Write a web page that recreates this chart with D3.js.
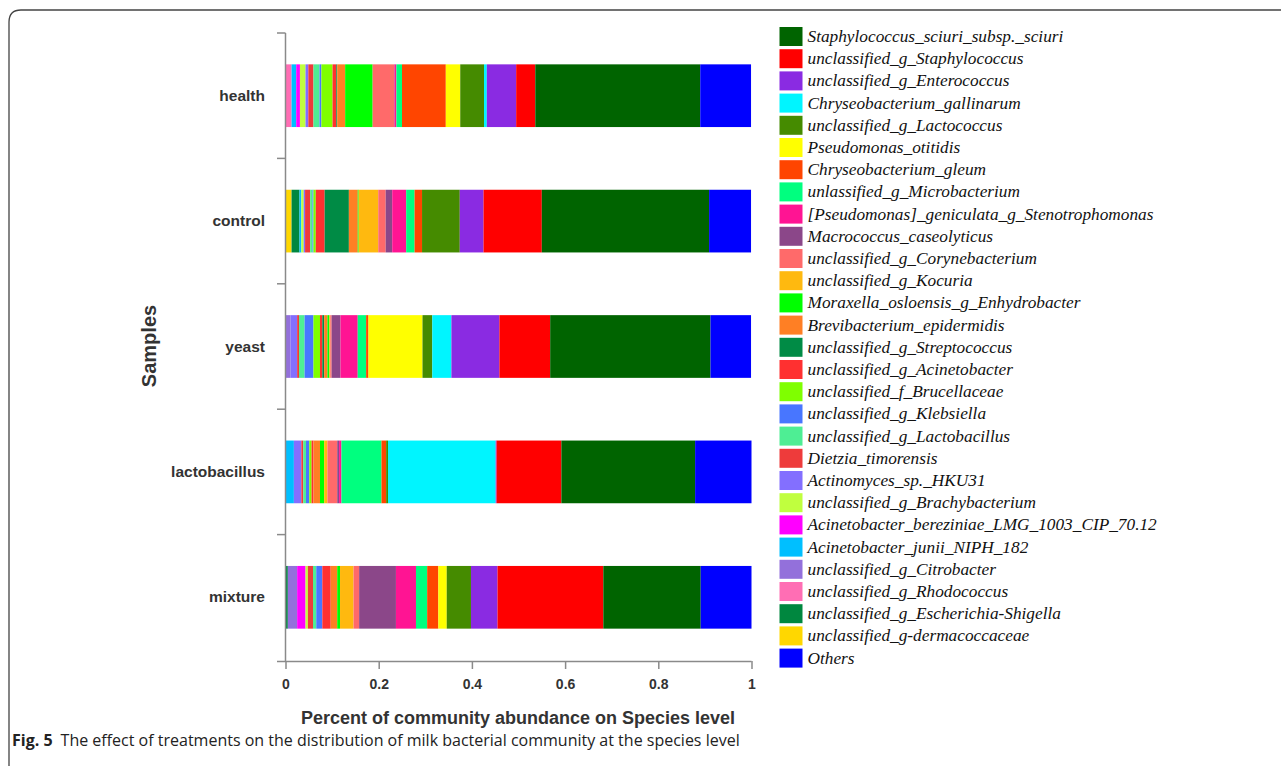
<!DOCTYPE html>
<html><head><meta charset="utf-8">
<script src="https://cdn.jsdelivr.net/npm/d3@7"></script>
<style>body{margin:0;background:#fff}svg{display:block}</style>
</head><body>
<svg id="chart" width="1281" height="766"></svg>
<script>
const samples = ["health","control","yeast","lactobacillus","mixture"];
const species = [
 "Staphylococcus_sciuri_subsp._sciuri","unclassified_g_Staphylococcus","unclassified_g_Enterococcus",
 "Chryseobacterium_gallinarum","unclassified_g_Lactococcus","Pseudomonas_otitidis","Chryseobacterium_gleum",
 "unlassified_g_Microbacterium","[Pseudomonas]_geniculata_g_Stenotrophomonas","Macrococcus_caseolyticus",
 "unclassified_g_Corynebacterium","unclassified_g_Kocuria","Moraxella_osloensis_g_Enhydrobacter",
 "Brevibacterium_epidermidis","unclassified_g_Streptococcus","unclassified_g_Acinetobacter",
 "unclassified_f_Brucellaceae","unclassified_g_Klebsiella","unclassified_g_Lactobacillus","Dietzia_timorensis",
 "Actinomyces_sp._HKU31","unclassified_g_Brachybacterium","Acinetobacter_bereziniae_LMG_1003_CIP_70.12",
 "Acinetobacter_junii_NIPH_182","unclassified_g_Citrobacter","unclassified_g_Rhodococcus",
 "unclassified_g_Escherichia-Shigella","unclassified_g-dermacoccaceae","Others"];
const colors = ["#006400","#FF0000","#8A2BE2","#00F5FF","#458B00","#FFFF00","#FF4500","#00FF7F","#FF1493",
 "#8B4789","#FF6A6A","#FFB90F","#00FF00","#FF7F24","#008B45","#FF3030","#7FFF00","#4876FF","#4EEE94",
 "#EE3B3B","#836FFF","#C0FF3E","#FF00FF","#00BFFF","#9370DB","#FF6EB4","#00873F","#FFD700","#0000FF"];
const xTicks = [0,0.2,0.4,0.6,0.8,1];
// values in legend order
const health        = [0.354,0.041,0.063,0.006,0.051,0.031,0.094,0.012,0.004,0.001,0.046,0,0.059,0.017,0.002,0.008,0.024,0.004,0.013,0.011,0.006,0.012,0.008,0.010,0,0.013,0,0,0.109];
const control       = [0.359,0.125,0.051,0,0.081,0,0.016,0.018,0.030,0.014,0.016,0.042,0.002,0.019,0.052,0.019,0.005,0.002,0.005,0.011,0.003,0.005,0,0.004,0,0,0.017,0.013,0.090];
const yeast         = [0.344,0.109,0.103,0.041,0.021,0.116,0.005,0.018,0.037,0.019,0.003,0.002,0.004,0.007,0.004,0.005,0.014,0.019,0.012,0.004,0.014,0,0,0,0.011,0,0,0,0.087];
const lactobacillus = [0.287,0.139,0.002,0.231,0.004,0,0.010,0.086,0.005,0.004,0.021,0.007,0.009,0.014,0,0.004,0.005,0.007,0.006,0.004,0.016,0,0,0.018,0,0,0,0,0.121];
const mixture       = [0.209,0.227,0.057,0,0.052,0.018,0.024,0.024,0.043,0.079,0.012,0.029,0.006,0.014,0,0.018,0,0.013,0.007,0.011,0,0.005,0.018,0,0.020,0,0.005,0,0.109];

const valuesBySample = {health, control, yeast, lactobacillus, mixture};
const rows = samples.map(s => {
  const o = {sample: s};
  species.forEach((sp, i) => o[sp] = valuesBySample[s][i]);
  return o;
});
// stacking: least abundant legend entries first (left), Others at right end
const keys = species.slice(0, 28).reverse().concat(["Others"]);
const stacked = d3.stack().keys(keys)(rows);
const color = d3.scaleOrdinal().domain(species).range(colors);

const svg = d3.select("#chart");
// figure frame
svg.append("path").attr("d","M9,800 V22 Q9,10 21,10 H1300")
  .attr("fill","none").attr("stroke","#444").attr("stroke-width",1.3);

const x = d3.scaleLinear().domain([0,1]).range([285.5,751.5]);
const y = d3.scaleBand().domain(samples).range([33,660]).paddingInner(0.5).paddingOuter(0.25);

const g = svg.append("g");
g.selectAll("g.layer").data(stacked).join("g").attr("class","layer")
  .attr("fill", d => color(d.key))
  .selectAll("rect").data(d => d).join("rect")
  .attr("x", d => x(d[0])).attr("width", d => Math.max(0, x(d[1]) - x(d[0])))
  .attr("y", d => y(d.data.sample)).attr("height", y.bandwidth());

// axes
const axisColor = "#8a8a8a";
const step = y.step();
const yBounds = samples.map(s => y(s) - step*0.25).concat([y(samples[4]) + y.bandwidth() + step*0.25]);
svg.append("line").attr("x1",285.5).attr("x2",285.5).attr("y1",yBounds[0]).attr("y2",661)
  .attr("stroke",axisColor).attr("stroke-width",1.5);
svg.selectAll("line.ytick").data(yBounds.slice(0,5)).join("line").attr("class","ytick")
  .attr("x1",277).attr("x2",285.5).attr("y1",d=>d).attr("y2",d=>d)
  .attr("stroke",axisColor).attr("stroke-width",1.5);
svg.selectAll("text.ylab").data(samples).join("text").attr("class","ylab")
  .attr("x",265).attr("y",d => y(d) + y.bandwidth()/2 + 5)
  .attr("text-anchor","end").attr("font-family","Liberation Sans, Arial, sans-serif")
  .attr("font-weight","bold").attr("font-size",15.5).attr("fill","#333").text(d=>d);

const xAxis = svg.append("g").attr("transform","translate(0,661)")
  .call(d3.axisBottom(x).tickValues(xTicks).tickSize(8).tickSizeOuter(0).tickFormat(d3.format("~g")));
xAxis.select(".domain").attr("stroke",axisColor).attr("stroke-width",1.5).attr("d","M277,0.5H751.5");
xAxis.selectAll(".tick line").attr("stroke",axisColor).attr("stroke-width",1.5);
xAxis.selectAll(".tick text").attr("font-family","Liberation Sans, Arial, sans-serif")
  .attr("font-weight","bold").attr("font-size",14).attr("fill","#333").attr("dy","1.2em");

svg.append("text").attr("x",518).attr("y",724).attr("text-anchor","middle")
  .attr("font-family","Liberation Sans, Arial, sans-serif").attr("font-weight","bold")
  .attr("font-size",18).attr("fill","#333").text("Percent of community abundance on Species level");
svg.append("text").attr("transform","translate(156,346) rotate(-90)").attr("text-anchor","middle")
  .attr("font-family","Liberation Sans, Arial, sans-serif").attr("font-weight","bold")
  .attr("font-size",20).attr("fill","#333").text("Samples");

// legend
const leg = svg.append("g");
const li = leg.selectAll("g").data(species).join("g")
  .attr("transform",(d,i)=>`translate(779.5,${27 + i*22.2})`);
li.append("rect").attr("width",23).attr("height",19).attr("fill",d=>color(d));
li.append("text").attr("x",28).attr("y",15).attr("font-family","Liberation Serif, Times New Roman, serif")
  .attr("font-style","italic").attr("font-size",17.3).attr("fill","#111").text(d=>d);

// caption
const cap = svg.append("text").attr("x",12).attr("y",746)
  .attr("font-family","Open Sans, sans-serif").attr("font-size",16).attr("fill","#222");
cap.append("tspan").attr("font-weight","bold").text("Fig. 5");
cap.append("tspan").attr("dx",8).text("The effect of treatments on the distribution of milk bacterial community at the species level");
</script>
</body></html>
